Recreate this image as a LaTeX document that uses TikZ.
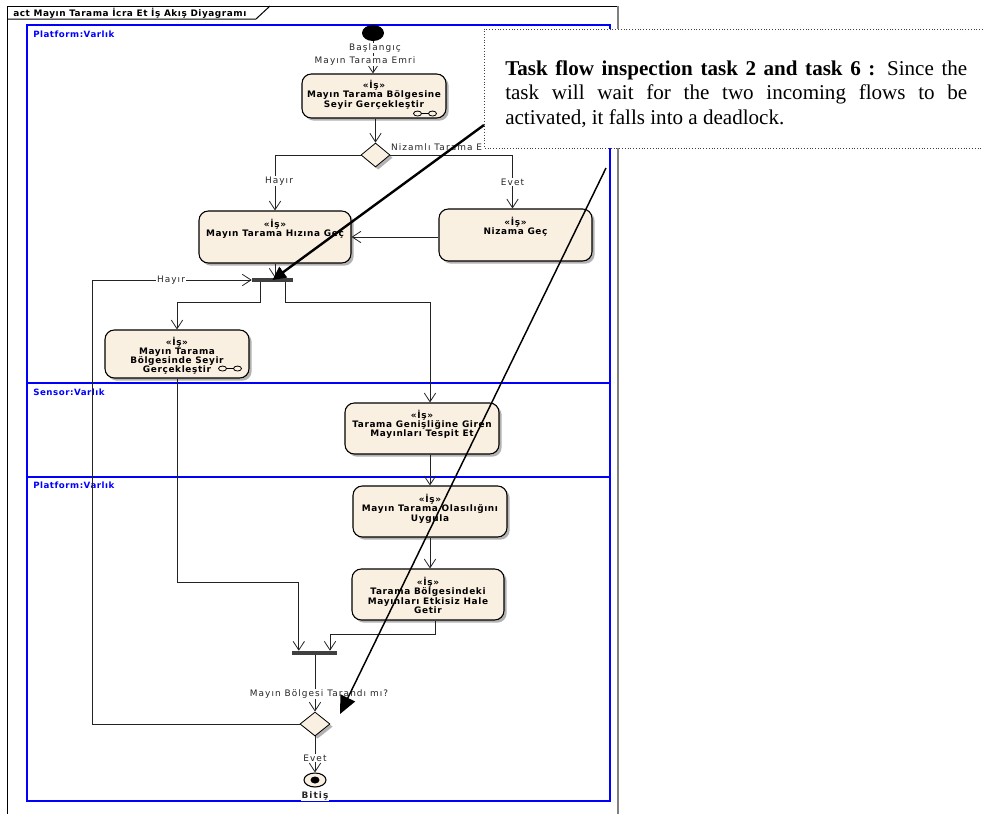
\documentclass[tikz,border=0pt]{standalone}
\usepackage{fontspec}
\setmainfont{Liberation Serif}
\newfontfamily\uititle{DejaVu Sans}[LetterSpace=6]
\newfontfamily\uiact{DejaVu Sans}[LetterSpace=7]
\newfontfamily\uilabel{DejaVu Sans}[LetterSpace=12]
\usetikzlibrary{arrows.meta,shapes.geometric,shadows,calc}
\definecolor{actfill}{RGB}{250,240,225}
\definecolor{lanecol}{RGB}{0,0,255}
\definecolor{barcol}{RGB}{64,64,64}
\definecolor{linecol}{RGB}{35,35,35}

\begin{document}
\begin{tikzpicture}[x=0.75pt,y=-0.75pt,
  shade/.style={drop shadow={shadow xshift=2pt,shadow yshift=-2pt,fill=black!30,opacity=1}},
  act/.style={draw=black,line width=0.8pt,fill=actfill,rounded corners=7pt,inner sep=0pt,shade},
  acttxt/.style={anchor=north,inner sep=0pt,align=center,font=\uiact\bfseries\fontsize{6.7}{6.9}\selectfont},
  decision/.style={diamond,draw=black,line width=0.6pt,fill=actfill,inner sep=0pt,shade},
  forkbar/.style={rectangle,fill=barcol,inner sep=0pt,minimum height=3pt},
  lbl/.style={font=\uilabel\fontsize{6.7}{7}\selectfont,text=black!85,fill=white,inner sep=0.6pt},
  lanelbl/.style={font=\uititle\bfseries\fontsize{6.5}{7}\selectfont,text=lanecol,anchor=west,inner sep=0pt},
  flow/.style={draw=linecol,line width=0.6pt,-{Straight Barb[length=6.5pt,width=8.5pt]}},
  lane/.style={draw=lanecol,line width=1.5pt},
  notearrow/.style={draw=black,line width=1.8pt,-{Triangle[length=10pt,width=9.6pt]}},
  notearrowthin/.style={draw=black,line width=1.1pt,-{Triangle[length=13.4pt,width=12pt]}},
  rake/.pic={\draw[line width=0.6pt] (-7.5,0) ellipse [x radius=4,y radius=2.5]
             (7.5,0) ellipse [x radius=4,y radius=2.5] (-3.5,0) -- (3.5,0);}
]
\useasboundingbox (0,0) rectangle (983,814);
\fill[white] (0,0) rectangle (983,814);

% diagram frame and its title tab
\draw[black,line width=0.75pt] (7,814) -- (7,6) -- (618,6);
\draw[black!50,line width=1.5pt] (618,6) -- (618,814);
\draw[black,line width=0.75pt] (7,19) -- (256,19) -- (270,6);
\node[font=\uititle\bfseries\fontsize{6.7}{7}\selectfont,anchor=west,inner sep=0pt] (title) at (13,13)
  {act Mayın Tarama İcra Et İş Akış Diyagramı};

% swimlanes
\draw[lane] (27,25) rectangle (610,801);
\draw[lane] (27,383) -- (610,383);
\draw[lane] (27,477) -- (610,477);
\node[lanelbl] (lane1) at (33,34) {Platform:Varlık};
\node[lanelbl] (lane2) at (33,392) {Sensor:Varlık};
\node[lanelbl] (lane3) at (33,485) {Platform:Varlık};

% initial and final nodes
\node[ellipse,fill=black,inner sep=0pt,minimum width=16.5pt,minimum height=12pt] (st) at (373,33) {};
\node[ellipse,draw=black,line width=0.8pt,fill=actfill,inner sep=0pt,minimum width=16.5pt,minimum height=10.5pt] (fin) at (315,780) {};
\node[ellipse,fill=black,inner sep=0pt,minimum width=6.75pt,minimum height=5.25pt] (findot) at (fin) {};

% actions
\node[act,minimum width=108pt,minimum height=33pt] (a1) at (374,96) {};
\node[act,minimum width=114pt,minimum height=39pt] (a2) at (275,237) {};
\node[act,minimum width=114.75pt,minimum height=39pt] (a3) at (515.5,235) {};
\node[act,minimum width=108pt,minimum height=36pt] (a4) at (177,354) {};
\node[act,minimum width=115.5pt,minimum height=38.25pt] (a5) at (422,428.5) {};
\node[act,minimum width=115.5pt,minimum height=38.25pt] (a6) at (430,511.5) {};
\node[act,minimum width=114pt,minimum height=38.25pt] (a7) at (428,594.5) {};

\node[acttxt] (t1) at ([yshift=-5pt]a1.north) {«İş»\\Mayın Tarama Bölgesine\\Seyir Gerçekleştir};
\node[acttxt] (t2) at ([yshift=-6.5pt]a2.north) {«İş»\\Mayın Tarama Hızına Geç};
\node[acttxt] (t3) at ([yshift=-6.5pt]a3.north) {«İş»\\Nizama Geç};
\node[acttxt] (t4) at ([yshift=-5.5pt]a4.north) {«İş»\\Mayın Tarama\\Bölgesinde Seyir\\Gerçekleştir};
\node[acttxt] (t5) at ([yshift=-5.5pt]a5.north) {«İş»\\Tarama Genişliğine Giren\\Mayınları Tespit Et};
\node[acttxt] (t6) at ([yshift=-6.5pt]a6.north) {«İş»\\Mayın Tarama Olasılığını\\Uygula};
\node[acttxt] (t7) at ([yshift=-6.5pt]a7.north) {«İş»\\Tarama Bölgesindeki\\Mayınları Etkisiz Hale\\Getir};

\pic at ([shift={(-21.5,-5)}]a1.south east) {rake};
\pic at ([shift={(-19.5,-10)}]a4.south east) {rake};

% decisions and fork bars
\node[decision,minimum width=21.75pt,minimum height=18pt] (d1) at (375.5,155) {};
\node[decision,minimum width=22.5pt,minimum height=18pt] (d2) at (315,724) {};
\node[forkbar,minimum width=30.75pt] (f1) at (272.5,280) {};
\node[forkbar,minimum width=33.75pt] (f2) at (314.5,653) {};

% control flows
\draw[flow] (st.south) -- (st.south |- a1.north);
\draw[flow] (d1.north |- a1.south) -- (d1.north);
\draw[flow] (d1.west) -| (a2.north);
\draw[flow] (d1.east) -| ([xshift=-2.25pt]a3.north);
\draw[flow] ([yshift=-1.5pt]a3.west) -- ([yshift=-1.5pt]a3.west -| a2.east);
\draw[flow] (a2.south) -- (a2.south |- f1.north);
\draw[flow] ($(f1.south west)!0.22!(f1.south east)$) -- ++(0,20) -| (a4.north);
\draw[flow] ($(f1.south west)!0.8!(f1.south east)$) -- ++(0,20) -| (a5.north -| a6.north);
\draw[flow] (a5.south -| a6.north) -- (a6.north);
\draw[flow] (a6.south) -- (a6.south |- a7.north);
\draw[flow] ([xshift=5.25pt]a7.south) -- ++(0,14) -| ($(f2.north west)!0.84!(f2.north east)$);
\draw[flow] (a4.south) -- ++(0,204) -| ($(f2.north west)!0.155!(f2.north east)$);
\draw[flow] (d2.north |- f2.south) -- (d2.north);
\draw[flow] (d2.south) -- (fin.north);
\draw[flow] (d2.west) -- ++(-207,0) |- (f1.west);

% flow labels
\node[lbl] (lstart) at (375,48) {Başlangıç};
\node[lbl] (lemri) at (365,61) {Mayın Tarama Emri};
\node[lbl,fill=none,anchor=west] (lniz) at (390,147) {Nizamlı Tarama E};
\node[lbl] (lhay1) at (279,181) {Hayır};
\node[lbl] (levet1) at (512.5,182) {Evet};
\node[lbl] (lhay2) at (171,280) {Hayır};
\node[lbl] (lq) at (319,694) {Mayın Bölgesi Tarandı mı?};
\node[lbl] (levet2) at (315,758) {Evet};
\node[lbl,font=\uilabel\bfseries\fontsize{6.7}{7}\selectfont] (lbitis) at (315,796) {Bitiş};

% inspection note
\fill[white] (484,29) rectangle (983,148);
\draw[black!75,line width=0.75pt,dash pattern=on 0.8pt off 1.3pt] (983,29) -- (484,29) -- (484,148) -- (983,148);
\node[anchor=north west,inner sep=0pt,text width=346.5pt,align=justify,font=\fontsize{15.8}{18.4}\selectfont] (notetext) at (505,60)
  {\textbf{Task flow inspection task 2 and task 6 :} Since the\linebreak task will wait for the two incoming flows to be\linebreak activated, it falls into a deadlock.};

% note pointers
\coordinate (n1) at (484,125);
\coordinate (n2) at (606,168);
\coordinate (n2tip) at (340,714);
\draw[notearrow] (n1) -- (f1.center);
\draw[notearrowthin] (n2) -- (n2tip);
\end{tikzpicture}
\end{document}
